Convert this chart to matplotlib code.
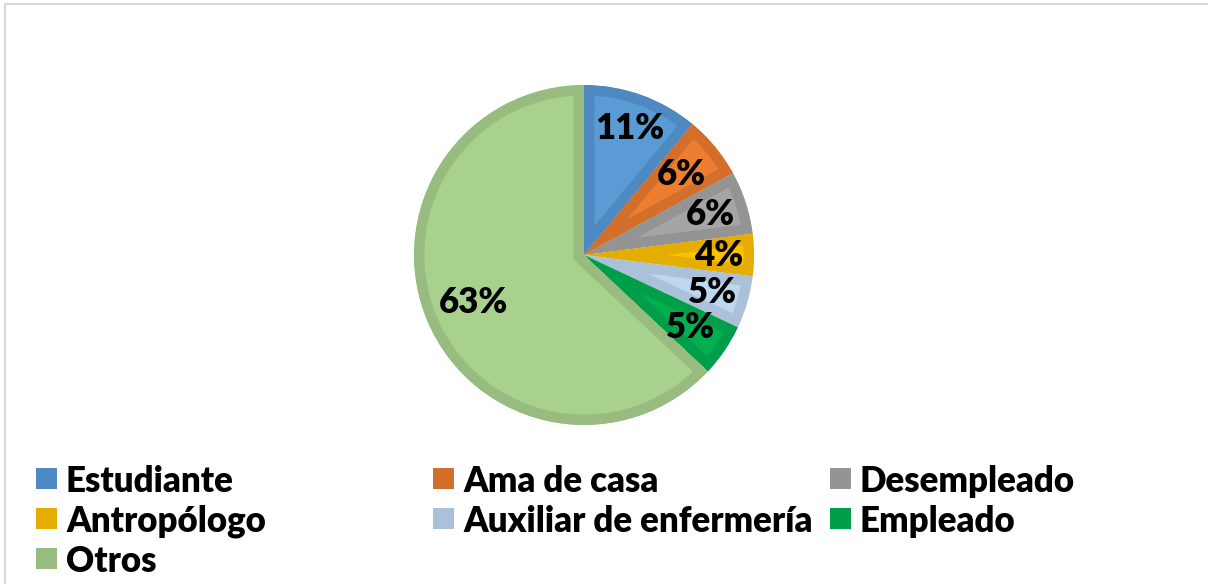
#!/usr/bin/env python3
"""Pie chart: ocupación de los participantes (porcentajes)."""

import matplotlib
matplotlib.use("Agg")
import matplotlib.pyplot as plt
from matplotlib.patches import Rectangle
import numpy as np

# ── data ────────────────────────────────────────────────────────────────
labels = ["Estudiante", "Ama de casa", "Desempleado", "Antropólogo",
          "Auxiliar de enfermería", "Empleado", "Otros"]
values = [11, 6, 6, 4, 5, 5, 63]

fill_colors = ["#5B9BD5", "#ED7D31", "#A5A5A5", "#FFC000",
               "#BDD7EE", "#00B050", "#A9D18E"]
edge_colors = ["#4E89C2", "#D46F2B", "#949494", "#E5AD00",
               "#AAC1D9", "#009E48", "#98BC80"]

# label distance from the centre (fraction of radius), per slice
label_dist = [0.79, 0.74, 0.78, 0.79, 0.79, 0.76, 0.71]

W, H = 1208, 584
plt.rcParams.update({
    "font.family": ["Lato", "DejaVu Sans"],
    "font.weight": "bold",
})

fig = plt.figure(figsize=(W / 100, H / 100), dpi=100)
fig.patch.set_facecolor("white")

# chart area frame (light grey)
fig.patches.append(Rectangle((5 / W, -0.1), 1.2, 1 - 4 / H + 0.1,
                             transform=fig.transFigure, fill=False,
                             edgecolor="#D9D9D9", linewidth=1.5))

# pie axes: centre (584, 255) px, radius 170 px
cx, cy, r = 584, 255, 170
ax = fig.add_axes([(cx - r) / W, (H - cy - r) / H, 2 * r / W, 2 * r / H])
wedges, _ = ax.pie(values, colors=fill_colors, startangle=90,
                   counterclock=False, radius=1.0)
ax.set_xlim(-1, 1)
ax.set_ylim(-1, 1)
ax.set_aspect("equal")
ax.axis("off")

# inner border: thick edge clipped to the wedge itself
for w, ec in zip(wedges, edge_colors):
    w.set_edgecolor(ec)
    w.set_linewidth(15)
    w.set_joinstyle("miter")
    w.set_clip_path(w)
    w.set_clip_on(True)

for w, v, d in zip(wedges, values, label_dist):
    ang = np.deg2rad((w.theta1 + w.theta2) / 2)
    ax.text(d * np.cos(ang), d * np.sin(ang), f"{v}%",
            ha="center", va="center", fontsize=25, fontweight="heavy",
            color="black")

# legend laid out row-wise in three equal columns
col_x = [36, 433, 830]
row_y = [478, 518, 558]
sq = 21
for i, (lab, ec) in enumerate(zip(labels, edge_colors)):
    row, col = divmod(i, 3)
    x0, y0 = col_x[col], row_y[row]
    fig.patches.append(Rectangle((x0 / W, (H - y0 - sq / 2) / H), sq / W, sq / H,
                                 transform=fig.transFigure,
                                 facecolor=ec, edgecolor="none"))
    fig.text((x0 + 30) / W, (H - y0) / H, lab, ha="left", va="center_baseline",
             fontsize=25, fontweight="heavy", color="black")

fig.savefig("out.png", dpi=100)
